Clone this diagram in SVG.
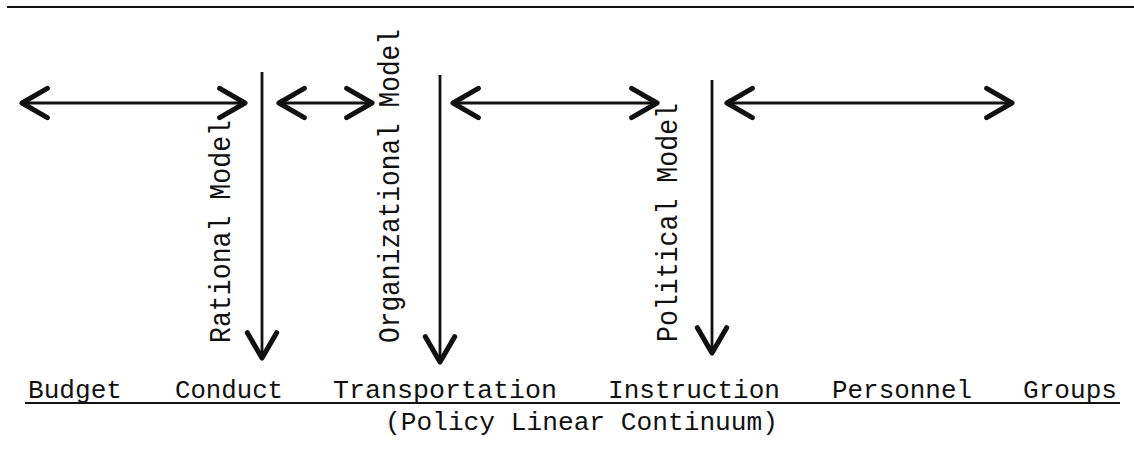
<svg xmlns="http://www.w3.org/2000/svg" width="1134" height="455" viewBox="0 0 1134 455">
<style>
.bg{fill:#fff}
.rule{stroke:#111;stroke-width:2.2;fill:none}
.shaft{stroke:#111;stroke-width:2.8;fill:none}
.lbl{font-family:"Liberation Mono","DejaVu Sans Mono",monospace;font-size:26px;fill:#111}
.vlbl{font-family:"Liberation Mono","DejaVu Sans Mono",monospace;font-size:30px;fill:#111}
</style>
<defs>
<marker id="ah" markerUnits="userSpaceOnUse" markerWidth="40" markerHeight="40" viewBox="-25 -15 30 30" refX="0" refY="0" orient="auto-start-reverse" overflow="visible">
<path d="M-19,-11 L0,0 L-19,11" fill="none" stroke="#111" stroke-width="3.8" stroke-linecap="round" stroke-linejoin="round"/>
</marker>
</defs>
<rect class="bg" x="0" y="0" width="1134" height="455"/>
<line class="rule" x1="7" y1="7" x2="1134" y2="7"/>
<g id="connectors">
<line class="shaft" x1="22" y1="103" x2="245" y2="103" marker-start="url(#ah)" marker-end="url(#ah)"/>
<line class="shaft" x1="279" y1="103" x2="372" y2="103" marker-start="url(#ah)" marker-end="url(#ah)"/>
<line class="shaft" x1="453" y1="103" x2="657" y2="103" marker-start="url(#ah)" marker-end="url(#ah)"/>
<line class="shaft" x1="727" y1="103" x2="1012" y2="103" marker-start="url(#ah)" marker-end="url(#ah)"/>
<line class="shaft" x1="262" y1="72" x2="262" y2="358" marker-end="url(#ah)"/>
<line class="shaft" x1="440" y1="75" x2="440" y2="362" marker-end="url(#ah)"/>
<line class="shaft" x1="712" y1="80" x2="712" y2="353" marker-end="url(#ah)"/>
</g>
<g id="rational-model">
<text class="vlbl" transform="translate(230,343) rotate(-90)" textLength="223" lengthAdjust="spacingAndGlyphs">Rational Model</text>
</g>
<g id="organizational-model">
<text class="vlbl" transform="translate(399,343) rotate(-90)" textLength="314" lengthAdjust="spacingAndGlyphs">Organizational Model</text>
</g>
<g id="political-model">
<text class="vlbl" transform="translate(677,342) rotate(-90)" textLength="239" lengthAdjust="spacingAndGlyphs">Political Model</text>
</g>
<g id="continuum">
<text class="lbl" x="28" y="398" textLength="94" lengthAdjust="spacingAndGlyphs">Budget</text>
<text class="lbl" x="175" y="398" textLength="108" lengthAdjust="spacingAndGlyphs">Conduct</text>
<text class="lbl" x="333" y="398" textLength="224" lengthAdjust="spacingAndGlyphs">Transportation</text>
<text class="lbl" x="608" y="398" textLength="172" lengthAdjust="spacingAndGlyphs">Instruction</text>
<text class="lbl" x="832" y="398" textLength="140" lengthAdjust="spacingAndGlyphs">Personnel</text>
<text class="lbl" x="1023" y="398" textLength="94" lengthAdjust="spacingAndGlyphs">Groups</text>
<line class="rule" x1="25" y1="403" x2="1120" y2="403"/>
<text class="lbl" x="385" y="430" textLength="393" lengthAdjust="spacingAndGlyphs">(Policy Linear Continuum)</text>
</g>
</svg>
